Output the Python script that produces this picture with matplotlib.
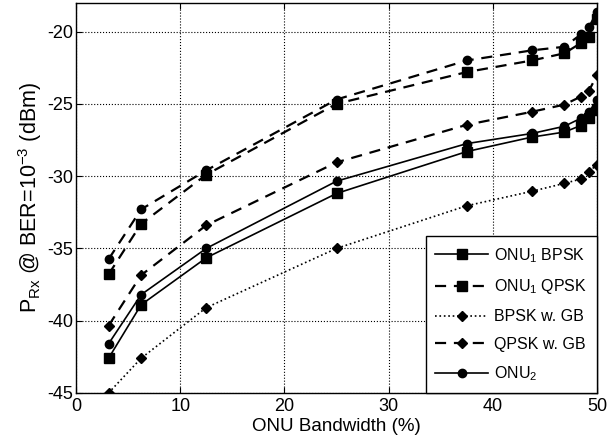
import numpy as np
import matplotlib
matplotlib.use('Agg')
import matplotlib.pyplot as plt

plt.rcParams['font.family'] = ['Liberation Sans', 'DejaVu Sans']
plt.rcParams['mathtext.default'] = 'regular'
plt.rcParams['axes.unicode_minus'] = False

bw = [3.125, 6.25, 12.5, 25, 37.5, 43.75, 46.875, 48.4375, 49.21875, 50]

onu1_bpsk = [-42.6, -38.9, -35.65, -31.2, -28.3, -27.3, -26.95, -26.5, -26.0, -25.4]
onu1_qpsk = [-36.8, -33.3, -29.9, -25.0, -22.8, -22.0, -21.5, -20.8, -20.35, -19.1]
bpsk_gb = [-45.0, -42.6, -39.1, -35.0, -32.05, -31.05, -30.5, -30.2, -29.7, -29.2]
qpsk_gb = [-40.35, -36.85, -33.4, -29.05, -26.45, -25.55, -25.05, -24.5, -24.1, -23.0]
onu2_solid = [-41.6, -38.2, -35.0, -30.35, -27.75, -27.05, -26.55, -26.0, -25.55, -24.75]
onu2_dash = [-35.75, -32.3, -29.6, -24.7, -22.0, -21.3, -21.05, -20.2, -19.7, -18.65]

labels = ['ONU$_1$ BPSK', 'ONU$_1$ QPSK', 'BPSK w. GB', 'QPSK w. GB', 'ONU$_2$']

fig = plt.figure(figsize=(6.08, 4.45), dpi=100)
ax = fig.add_axes([0.125, 0.117, 0.857, 0.877])

dash = (0, (5, 3.5))
ax.plot(bw, onu1_bpsk, color='k', ls='-', lw=1.2, marker='s', ms=7, label=labels[0])
ax.plot(bw, onu1_qpsk, color='k', ls=dash, lw=1.6, marker='s', ms=7, label=labels[1])
ax.plot(bw, bpsk_gb, color='k', ls=':', lw=1.2, marker='D', ms=5.5, label=labels[2])
ax.plot(bw, qpsk_gb, color='k', ls=dash, lw=1.6, marker='D', ms=5.5, label=labels[3])
ax.plot(bw, onu2_solid, color='k', ls='-', lw=1.2, marker='o', ms=6, label=labels[4])
ax.plot(bw, onu2_dash, color='k', ls=dash, lw=1.6, marker='o', ms=6)

ax.set_xlim(0, 50)
ax.set_ylim(-45, -18)
ax.set_xticks([0, 10, 20, 30, 40, 50])
ax.set_yticks([-45, -40, -35, -30, -25, -20])
ax.grid(True, color='k', ls=':', lw=0.8)
ax.tick_params(direction='in', labelsize=13, length=4, top=True, right=True)
ax.tick_params(axis='x', pad=4)
ax.tick_params(axis='y', pad=2)
for s in ax.spines.values():
    s.set_linewidth(1.0)

ax.set_xlabel('ONU Bandwidth (%)', fontsize=13.5, labelpad=2)
ax.set_ylabel('P$_{Rx}$ @ BER=10$^{-3}$ (dBm)', fontsize=15.5, labelpad=2)

leg = ax.legend(loc='lower right', fontsize=11.5, fancybox=False, edgecolor='k',
                framealpha=1, borderaxespad=0, labelspacing=0.8, handlelength=3.3,
                handletextpad=0.4, borderpad=0.6)
leg.get_frame().set_linewidth(1.0)

fig.savefig('out.png', dpi=100)
